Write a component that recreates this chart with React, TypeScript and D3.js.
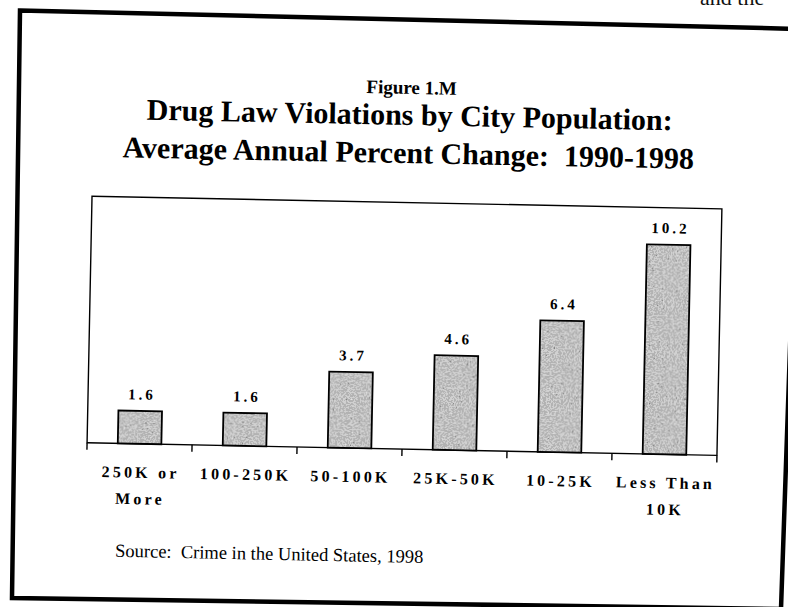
import React from "react";
import * as d3 from "d3";

const categories = ["250K or More", "100-250K", "50-100K", "25K-50K", "10-25K", "Less Than 10K"];
const values = [1.6, 1.6, 3.7, 4.6, 6.4, 10.2];
const valueLabels = ["1.6", "1.6", "3.7", "4.6", "6.4", "10.2"];
const labelLines = [["250K or", "More"], ["100-250K"], ["50-100K"], ["25K-50K"], ["10-25K"], ["Less Than", "10K"]];
const yDomain = [0, 12];
const figureLabel = "Figure 1.M";
const titleLines = ["Drug Law Violations by City Population:", "Average Annual Percent Change:  1990-1998"];
const sourceText = "Source:  Crime in the United States, 1998";
const pageText = "and the";

const W = 788;
const H = 607;
const serif = "'Liberation Serif', 'Times New Roman', serif";

export default function App() {
  const x = d3.scaleBand<string>().domain(categories).range([90, 720]).paddingInner(0.585).paddingOuter(0.2925);
  const y = d3.scaleLinear().domain(yDomain).range([449, 202.4]);
  const gap = (x.step() - x.bandwidth()) / 2;
  const bounds = categories.map((c) => (x(c) as number) - gap);
  bounds.push((x(categories[categories.length - 1]) as number) + x.bandwidth() + gap);
  const [y0] = y.range();
  const yTop = y(yDomain[1]);
  const left = x.range()[0];
  const right = x.range()[1];
  const vls = 3;
  const cls = 3.2;
  const tv = "0.1 0.5 0.7 0.82 0.9 0.97";

  return (
    <svg width={W} height={H} style={{ position: "absolute", left: 0, top: 0, background: "#fff" }} fontFamily={serif}>
      <defs>
        <filter id="stip" filterUnits="objectBoundingBox" x="0" y="0" width="1" height="1" colorInterpolationFilters="sRGB">
          <feTurbulence type="fractalNoise" baseFrequency="0.6" numOctaves="2" seed="7" result="n" />
          <feColorMatrix in="n" type="matrix" values="0.33 0.33 0.33 0 0  0.33 0.33 0.33 0 0  0.33 0.33 0.33 0 0  0 0 0 0 1" result="g" />
          <feComponentTransfer in="g" result="d">
            <feFuncR type="discrete" tableValues={tv} />
            <feFuncG type="discrete" tableValues={tv} />
            <feFuncB type="discrete" tableValues={tv} />
          </feComponentTransfer>
          <feComposite in="d" in2="SourceGraphic" operator="in" />
        </filter>
      </defs>
      <rect x={0} y={0} width={W} height={H} fill="#fff" />
      <text x={700} y={5} fontSize={22} fill="#111">{pageText}</text>
      <path d="M20,10.5 L801,29 L781,609 L12,598 Z" fill="none" stroke="#000" strokeWidth={4.5} strokeLinejoin="miter" />
      <g transform="rotate(1.15 400 300)">
        <text x={407.4} y={93.8} textAnchor="middle" fontSize={19} fontWeight="bold" fill="#000">{figureLabel}</text>
        <text x={406} y={124.8} textAnchor="middle" fontSize={30} fontWeight="bold" fill="#000" style={{ whiteSpace: "pre" }}>{titleLines[0]}</text>
        <text x={405.3} y={162.9} textAnchor="middle" fontSize={30} fontWeight="bold" fill="#000" style={{ whiteSpace: "pre" }}>{titleLines[1]}</text>

        <rect x={left} y={yTop} width={right - left} height={y0 - yTop} fill="none" stroke="#000" strokeWidth={1.4} />
        {bounds.map((b, i) => (
          <line key={"t" + i} x1={b} x2={b} y1={y0} y2={y0 + 7} stroke="#000" strokeWidth={1.4} />
        ))}

        {categories.map((c, i) => {
          const bx = x(c) as number;
          const by = y(values[i]);
          return (
            <g key={c}>
              <rect x={bx} y={by} width={x.bandwidth()} height={y0 - by} fill="#bbb" filter="url(#stip)" />
              <rect x={bx} y={by} width={x.bandwidth()} height={y0 - by} fill="none" stroke="#000" strokeWidth={1.8} />
              <text x={bx + x.bandwidth() / 2} dx={vls / 2} y={by - 11.5} textAnchor="middle" fontSize={15} fontWeight="bold" letterSpacing={vls} fill="#000">
                {valueLabels[i]}
              </text>
              {labelLines[i].map((ln, j) => (
                <text key={j} x={bx + x.bandwidth() / 2} dx={cls / 2} y={483 + j * 26.5} textAnchor="middle" fontSize={16} fontWeight="bold" letterSpacing={cls} fill="#000" style={{ whiteSpace: "pre" }}>
                  {ln}
                </text>
              ))}
            </g>
          );
        })}

        <text x={120.2} y={562.4} fontSize={18.5} fill="#000" style={{ whiteSpace: "pre" }}>{sourceText}</text>
      </g>
    </svg>
  );
}
